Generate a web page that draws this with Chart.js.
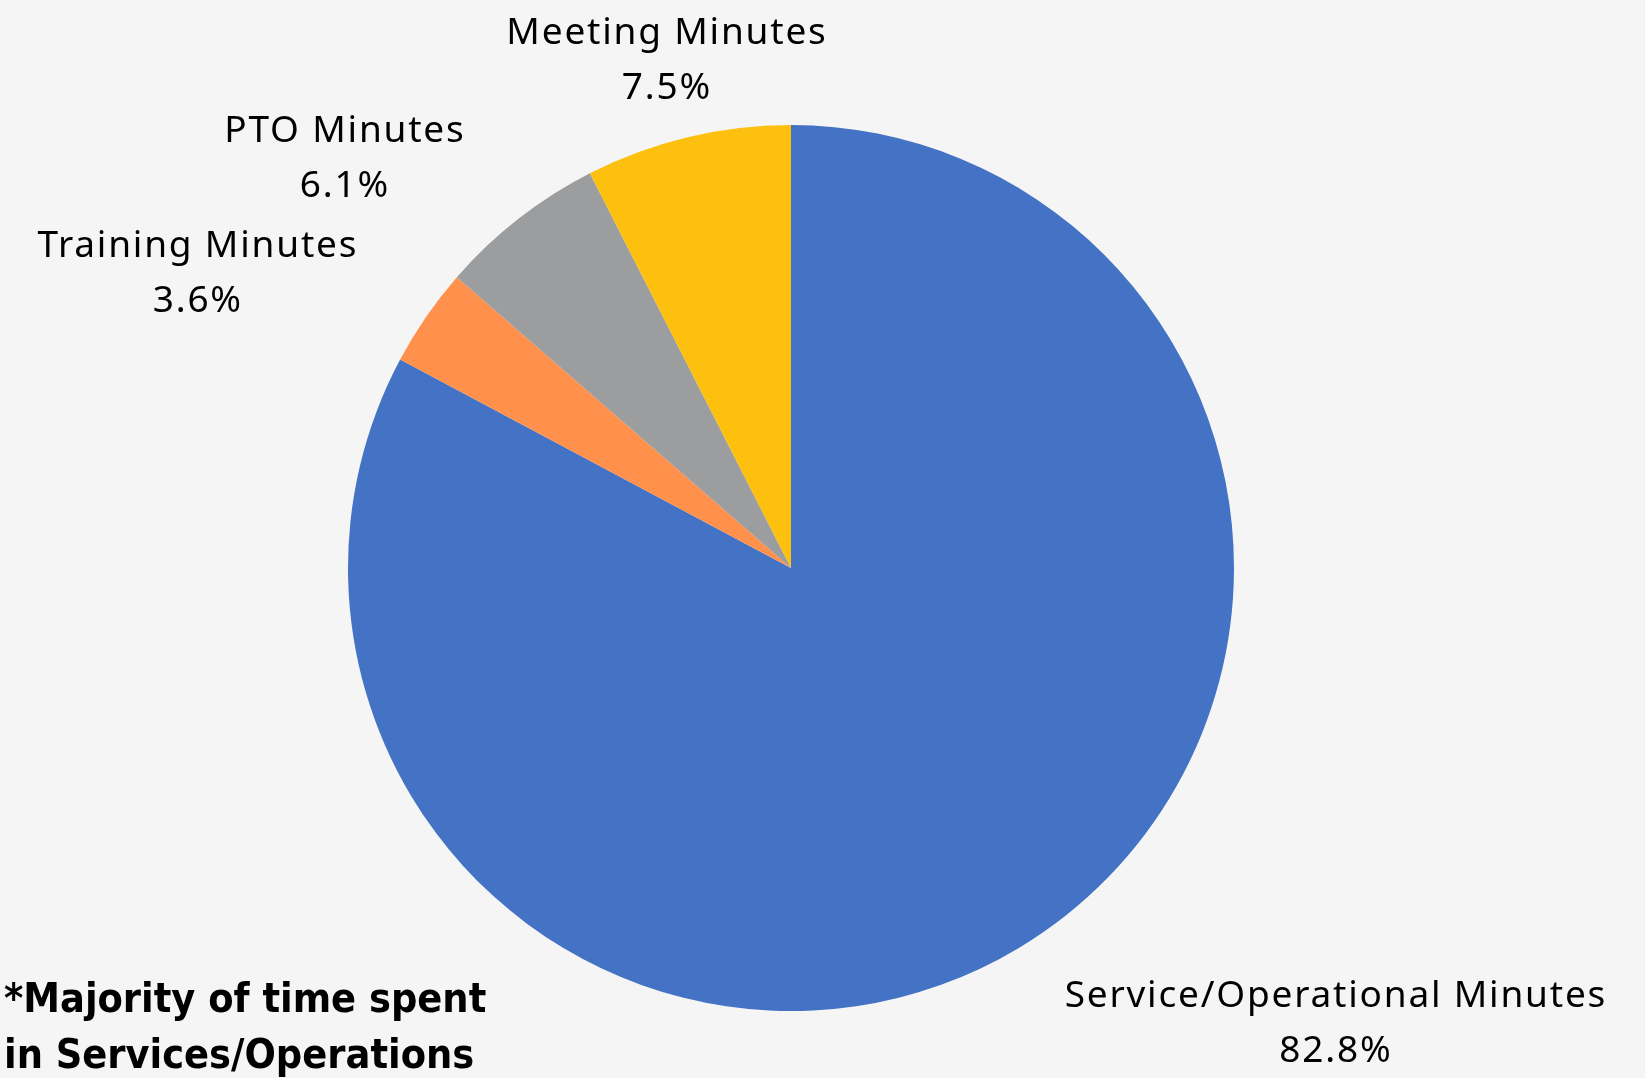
<!DOCTYPE html>
<html>
<head>
<meta charset="utf-8">
<script src="https://cdn.jsdelivr.net/npm/chart.js@4"></script>
<style>
  html, body { margin: 0; padding: 0; background: #f5f5f5; }
  #wrap { position: relative; width: 1645px; height: 1078px; }
  #note {
    position: absolute; left: 4px; top: 970px;
    font-family: "Liberation Sans Narrow", "DejaVu Sans Condensed", sans-serif;
    font-weight: bold; font-size: 41px; line-height: 56px; color: #000;
  }
</style>
</head>
<body>
<div id="wrap">
  <canvas id="pieChart"></canvas>
  <div id="note">*Majority of time spent<br>in Services/Operations</div>
</div>
<script>
const labels = ["Service/Operational Minutes", "Training Minutes", "PTO Minutes", "Meeting Minutes"];
const shares = [82.8, 3.6, 6.1, 7.5];
const sliceColors = ["#4472c4", "#ff914d", "#9c9d9f", "#fdc00f"];

// label offsets relative to pie centre, in units of the radius
const labelOffsets = [[1.230, 1.028], [-1.339, -0.665], [-1.007, -0.925], [-0.280, -1.146]];

const outsideLabels = {
  id: "outsideLabels",
  afterDraw(chart) {
    const ctx = chart.ctx;
    const meta = chart.getDatasetMeta(0);
    ctx.save();
    ctx.fillStyle = "#000";
    ctx.font = '37px "Noto Sans", sans-serif';
    ctx.letterSpacing = "1.8px";
    ctx.textAlign = "center";
    ctx.textBaseline = "middle";
    meta.data.forEach((arc, i) => {
      const r = arc.outerRadius;
      const x = arc.x + labelOffsets[i][0] * r;
      const y = arc.y + labelOffsets[i][1] * r;
      ctx.fillText(labels[i], x, y - 27);
      ctx.fillText(shares[i].toFixed(1) + "%", x, y + 28);
    });
    ctx.restore();
  }
};

const ctx = document.getElementById("pieChart").getContext("2d");
new Chart(ctx, {
  type: "pie",
  data: {
    labels,
    datasets: [{
      data: shares,
      backgroundColor: sliceColors,
      borderWidth: 0
    }]
  },
  options: {
    responsive: true,
    maintainAspectRatio: false,
    animation: false,
    layout: { padding: { top: 125, bottom: 67, left: 300, right: 363 } },
    plugins: {
      legend: { display: false },
      tooltip: { enabled: false }
    }
  },
  plugins: [outsideLabels]
});
</script>
</body>
</html>
